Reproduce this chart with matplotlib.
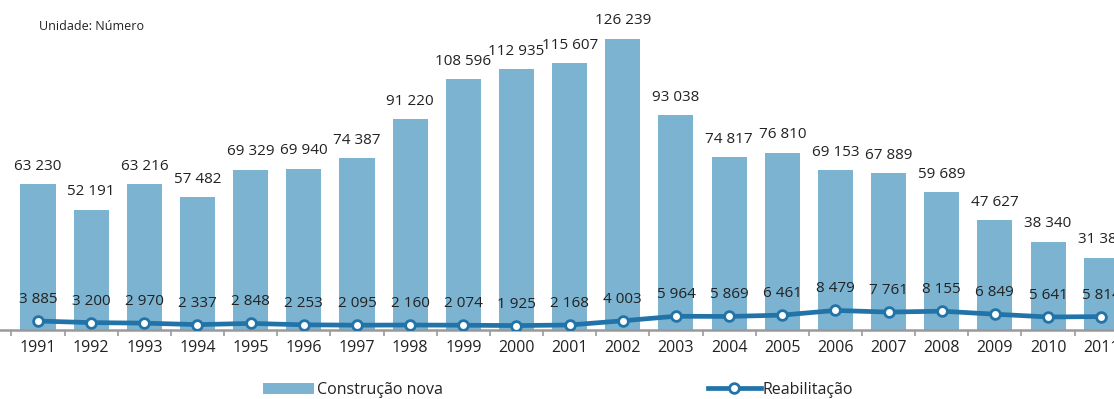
import matplotlib.pyplot as plt
import numpy as np
from matplotlib.lines import Line2D
from matplotlib.patches import Patch

plt.rcParams['font.family'] = ['Open Sans', 'DejaVu Sans']

anos = [str(a) for a in range(1991, 2012)]
construcao_nova = [63230, 52191, 63216, 57482, 69329, 69940, 74387, 91220, 108596,
                   112935, 115607, 126239, 93038, 74817, 76810, 69153, 67889, 59689,
                   47627, 38340, 31384]
reabilitacao = [3885, 3200, 2970, 2337, 2848, 2253, 2095, 2160, 2074, 1925, 2168,
                4003, 5964, 5869, 6461, 8479, 7761, 8155, 6849, 5641, 5814]

COR_BARRA = '#7bb3d0'
COR_LINHA = '#2274a8'
COR_TEXTO = '#222222'


def fmt(v):
    # separador de milhares com espaço
    return f"{v:,}".replace(",", " ")


fig = plt.figure(figsize=(11.14, 3.99), dpi=100)
ax = fig.add_axes([0, 69 / 399, 1, 330 / 399])

x = np.arange(len(anos))
ax.bar(x, construcao_nova, width=0.66, color=COR_BARRA, zorder=1)
ax.plot(x, reabilitacao, color=COR_LINHA, lw=3.4, marker='o', ms=7,
        mfc='white', mec=COR_LINHA, mew=2, zorder=3)

for xi, v in zip(x, construcao_nova):
    ax.annotate(fmt(v), (xi, v), xytext=(0, 13), textcoords='offset points',
                ha='center', va='center', fontsize=11, color=COR_TEXTO)
for xi, v in zip(x, reabilitacao):
    ax.annotate(fmt(v), (xi, v), xytext=(0, 15.5), textcoords='offset points',
                ha='center', va='center', fontsize=11, color=COR_TEXTO)

ax.set_xticks(x)
ax.set_xticklabels(anos, fontsize=11.5, color=COR_TEXTO)
ax.set_xticks(np.arange(-0.5, len(anos), 1), minor=True)
ax.tick_params(axis='x', which='major', length=0, pad=7.5)
ax.tick_params(axis='x', which='minor', length=4, width=1.2, color='#999999')
ax.set_yticks([])
# limites depois dos ticks, para o último ano ficar cortado na margem
ax.set_xlim(-0.715, 20.24)
ax.set_ylim(0, 143000)
for s in ['top', 'right', 'left']:
    ax.spines[s].set_visible(False)
ax.spines['bottom'].set_color('#999999')
ax.spines['bottom'].set_linewidth(1.8)

fig.text(39 / 1114, 1 - 27 / 399, 'Unidade: Número', fontsize=9, color=COR_TEXTO,
         va='center', ha='left')

h_barra = Patch(facecolor=COR_BARRA, edgecolor='none')
h_linha = Line2D([], [], color=COR_LINHA, lw=3.4, marker='o', ms=7,
                 mfc='white', mec=COR_LINHA, mew=2)
leg1 = fig.legend([h_barra], ['Construção nova'], loc='center left',
                  bbox_to_anchor=(263 / 1114, 1 - 390 / 399), frameon=False,
                  fontsize=11.5, handlelength=3.2, handleheight=0.72,
                  handletextpad=0.15, borderpad=0, borderaxespad=0)
leg2 = fig.legend([h_linha], ['Reabilitação'], loc='center left',
                  bbox_to_anchor=(708 / 1114, 1 - 390 / 399), frameon=False,
                  fontsize=11.5, handlelength=3.3, handletextpad=0.1,
                  borderpad=0, borderaxespad=0)
for leg in (leg1, leg2):
    for t in leg.get_texts():
        t.set_color(COR_TEXTO)

fig.savefig('out.png', dpi=100)
